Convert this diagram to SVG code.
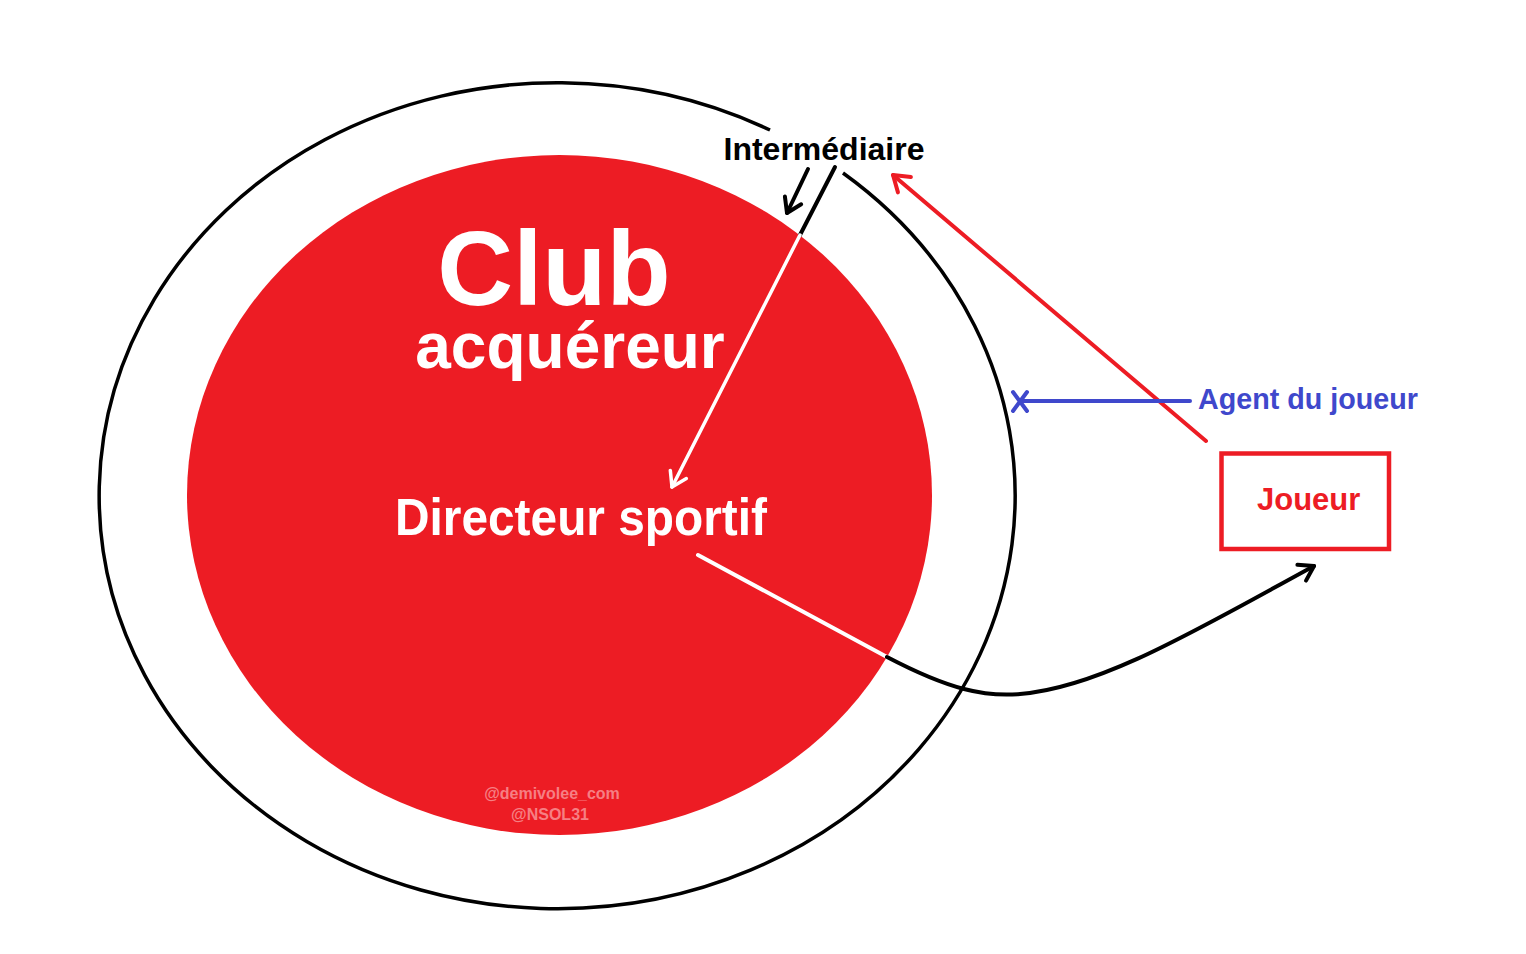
<svg xmlns="http://www.w3.org/2000/svg" width="1526" height="954" viewBox="0 0 1526 954">
<style>
text{font-family:"Liberation Sans",Arial,sans-serif;font-weight:bold}
.ln{fill:none;stroke-linecap:round;stroke-linejoin:round}
</style>
<defs>
<marker id="ah-black" viewBox="-18 -12 20 24" markerWidth="20" markerHeight="24" refX="0" refY="0" orient="auto" markerUnits="userSpaceOnUse" overflow="visible">
<path d="M -14 -9 L 0 0 L -14 9" fill="none" stroke="#000" stroke-width="4" stroke-linecap="round" stroke-linejoin="round"/>
</marker>
<marker id="ah-white" viewBox="-18 -12 20 24" markerWidth="20" markerHeight="24" refX="0" refY="0" orient="auto" markerUnits="userSpaceOnUse" overflow="visible">
<path d="M -14 -9 L 0 0 L -14 9" fill="none" stroke="#fff" stroke-width="3.5" stroke-linecap="round" stroke-linejoin="round"/>
</marker>
<marker id="ah-red" viewBox="-18 -12 20 24" markerWidth="20" markerHeight="24" refX="0" refY="0" orient="auto" markerUnits="userSpaceOnUse" overflow="visible">
<path d="M -15 -10 L 0 0 L -15 10" fill="none" stroke="#ED1C24" stroke-width="4" stroke-linecap="round" stroke-linejoin="round"/>
</marker>
</defs>
<rect width="1526" height="954" fill="#fff"/>
<g id="club-outer">
<path d="M 843 173 A 458 413 0 1 1 770 130" fill="none" stroke="#000" stroke-width="3.5"/>
</g>
<g id="club-acquereur">
<ellipse cx="559.5" cy="495" rx="372.5" ry="340" fill="#ED1C24"/>
<text x="554" y="305" font-size="105" fill="#fff" text-anchor="middle">Club</text>
<text x="570" y="368" font-size="64" fill="#fff" text-anchor="middle">acquéreur</text>
</g>
<g id="directeur-sportif">
<text x="581" y="535" font-size="52" fill="#fff" text-anchor="middle" textLength="372" lengthAdjust="spacingAndGlyphs">Directeur sportif</text>
</g>
<g id="intermediaire">
<text x="824" y="160" font-size="32" fill="#000" text-anchor="middle">Intermédiaire</text>
</g>
<g id="agent-du-joueur">
<text x="1198" y="409" font-size="28.7" fill="#3F48CC">Agent du joueur</text>
</g>
<g id="joueur">
<rect x="1221.5" y="453.5" width="167.5" height="95.5" fill="none" stroke="#ED1C24" stroke-width="4.5"/>
<text x="1257" y="510" font-size="31" fill="#ED1C24">Joueur</text>
</g>
<g id="watermark">
<text x="552" y="799" font-size="16" fill="#F67F83" text-anchor="middle">@demivolee_com</text>
<text x="550" y="820" font-size="16" fill="#F67F83" text-anchor="middle">@NSOL31</text>
</g>
<g id="connectors">
<path class="ln" d="M 808 169 L 787 213" stroke="#000" stroke-width="4" marker-end="url(#ah-black)"/>
<path class="ln" d="M 835 167 L 800 235" stroke="#000" stroke-width="4"/>
<path class="ln" d="M 800 235 L 672 487" stroke="#fff" stroke-width="3.5" marker-end="url(#ah-white)"/>
<path class="ln" d="M 1206 441 L 893 175" stroke="#ED1C24" stroke-width="4" marker-end="url(#ah-red)"/>
<path class="ln" d="M 1190 401 L 1020 401" stroke="#3F48CC" stroke-width="4"/>
<path class="ln" d="M 1013 392 L 1027 411 M 1027 392 L 1013 411" stroke="#3F48CC" stroke-width="4"/>
<path class="ln" d="M 698 555 L 887 657" stroke="#fff" stroke-width="4"/>
<path class="ln" d="M 887 657 C 950 690 985 697 1020 694 C 1100 688 1200 628 1314 566" stroke="#000" stroke-width="4" marker-end="url(#ah-black)"/>
</g>
</svg>
